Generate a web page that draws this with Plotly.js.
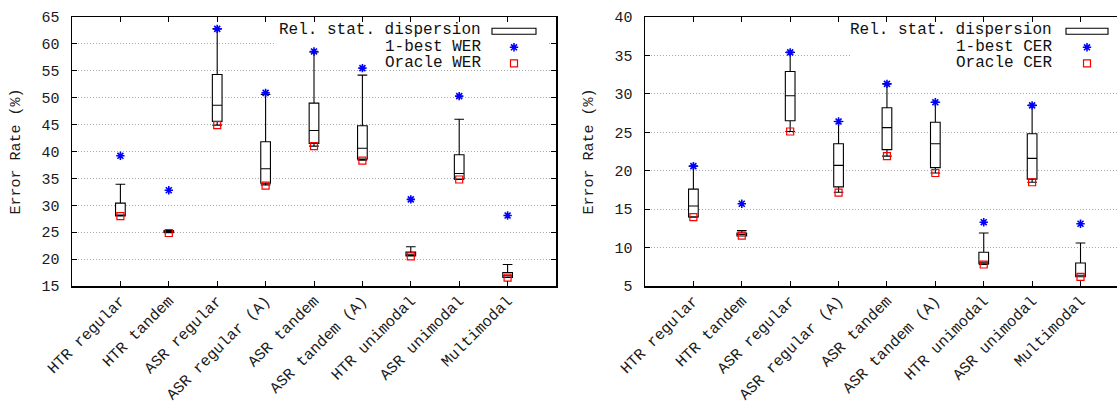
<!DOCTYPE html>
<html>
<head>
<meta charset="utf-8">
<script src="https://cdn.plot.ly/plotly-3.0.1.min.js"></script>
<style>html,body{margin:0;padding:0;background:#fff;}#chart{width:1117px;height:403px;}</style>
</head>
<body>
<div id="chart"></div>
<script>
const categories = ["HTR regular", "HTR tandem", "ASR regular", "ASR regular (A)", "ASR tandem", "ASR tandem (A)", "HTR unimodal", "ASR unimodal", "Multimodal"];

// WER panel (left)
const werWhiskerLow  = [28.0, 24.9, 44.9, 33.8, 41.0, 38.4, 20.6, 34.8, 16.6];
const werQ1          = [28.0, 24.95, 45.6, 34.1, 41.5, 38.6, 20.6, 34.9, 16.6];
const werMedian      = [28.1, 25.05, 48.6, 36.8, 43.9, 40.6, 20.7, 35.9, 16.9];
const werQ3          = [30.4, 25.25, 54.3, 41.8, 49.0, 44.8, 21.3, 39.4, 17.5];
const werWhiskerHigh = [33.9, 25.3, 62.8, 50.6, 58.5, 54.2, 22.3, 46.0, 19.0];
const werOneBest     = [39.2, 32.8, 62.8, 50.9, 58.6, 55.5, 31.1, 50.3, 28.1];
const werOracle      = [28.0, 24.85, 44.9, 33.65, 41.0, 38.3, 20.5, 34.8, 16.55];

// CER panel (right)
const cerWhiskerLow  = [13.95, 11.5, 25.1, 17.2, 21.9, 19.7, 7.8, 18.5, 6.2];
const cerQ1          = [14.0, 11.5, 26.5, 17.9, 22.75, 20.4, 7.9, 18.9, 6.2];
const cerMedian      = [15.4, 11.7, 29.75, 20.7, 25.6, 23.5, 8.1, 21.6, 6.4];
const cerQ3          = [17.6, 11.9, 32.9, 23.5, 28.2, 26.3, 9.4, 24.8, 8.0];
const cerWhiskerHigh = [20.6, 12.2, 35.4, 26.4, 31.3, 28.9, 11.9, 28.5, 10.6];
const cerOneBest     = [20.6, 15.7, 35.4, 26.4, 31.3, 28.9, 13.3, 28.5, 13.1];
const cerOracle      = [13.95, 11.55, 25.1, 17.15, 21.9, 19.7, 7.8, 18.5, 6.2];

const legendLabelsLeft  = ["Rel. stat. dispersion", "1-best WER", "Oracle WER"];
const legendLabelsRight = ["Rel. stat. dispersion", "1-best CER", "Oracle CER"];

const MONO = "Liberation Mono, Courier New, monospace";
const W = 1117;

const starMarker = {symbol: "asterisk-open", size: 7, color: "#0000ff", line: {color: "#0000ff", width: 1.6}};
const squareMarker = {symbol: "square-open", size: 7, color: "#ff0000", line: {color: "#ff0000", width: 1.2}};

function boxTrace(xa, ya, lo, q1, med, q3, hi) {
  return {
    type: "box", x: categories, xaxis: xa, yaxis: ya,
    lowerfence: lo, q1: q1, median: med, q3: q3, upperfence: hi,
    boxpoints: false, width: 0.2, whiskerwidth: 1,
    fillcolor: "#ffffff", line: {color: "#000000", width: 1.1},
    hoverinfo: "skip", showlegend: false
  };
}
function markTrace(xa, ya, y, marker) {
  return {type: "scatter", mode: "markers", x: categories, y: y, xaxis: xa, yaxis: ya,
    marker: marker, hoverinfo: "skip", showlegend: false, cliponaxis: false};
}

// legend geometry in pixel space (x5/y5 axes map 1 unit = 1 px)
const legendPanels = [
  {labels: legendLabelsLeft,  textRight: 482, sampleX0: 492, sampleX1: 536, markX: 514},
  {labels: legendLabelsRight, textRight: 1053, sampleX0: 1066, sampleX1: 1108, markX: 1087}
];
const rowY = [30.3, 47.3, 63.3];

const data = [
  boxTrace("x", "y", werWhiskerLow, werQ1, werMedian, werQ3, werWhiskerHigh),
  markTrace("x", "y", werOracle, squareMarker),
  markTrace("x", "y", werOneBest, starMarker),
  boxTrace("x2", "y2", cerWhiskerLow, cerQ1, cerMedian, cerQ3, cerWhiskerHigh),
  markTrace("x2", "y2", cerOracle, squareMarker),
  markTrace("x2", "y2", cerOneBest, starMarker)
];

const annotations = [];
const shapes = [
  {type: "rect", xref: "x", yref: "y", x0: 3.2, x1: 8.85, y0: 55.15, y1: 64.3, layer: "between", fillcolor: "#ffffff", line: {width: 0}},
  {type: "rect", xref: "x2", yref: "y2", x0: 3.24, x1: 8.754, y0: 33.2, y1: 39.5, layer: "between", fillcolor: "#ffffff", line: {width: 0}}
];
legendPanels.forEach(p => {
  p.labels.forEach((t, i) => {
    annotations.push({xref: "x5", yref: "y5", x: p.textRight, y: rowY[i], text: t, showarrow: false,
      xanchor: "right", yanchor: "middle", borderpad: 0, font: {family: MONO, size: 16, color: "#111"}});
  });
  shapes.push({type: "rect", xref: "x5", yref: "y5", x0: p.sampleX0, x1: p.sampleX1, y0: 28.3, y1: 34.3,
    line: {color: "#000", width: 1.1}, fillcolor: "rgba(0,0,0,0)", layer: "above"});
  data.push({type: "scatter", mode: "markers", x: [p.markX], y: [rowY[1]], xaxis: "x5", yaxis: "y5",
    marker: starMarker, hoverinfo: "skip", showlegend: false});
  data.push({type: "scatter", mode: "markers", x: [p.markX], y: [rowY[2]], xaxis: "x5", yaxis: "y5",
    marker: squareMarker, hoverinfo: "skip", showlegend: false});
});

const tickFont = {family: MONO, size: 15, color: "#1a1a1a"};
const xTickFont = {family: MONO, size: 15.5, color: "#1a1a1a"};
const xCommon = {type: "category", showline: true, linecolor: "#000", linewidth: 1.5, mirror: "ticks",
  ticks: "inside", ticklen: 5, tickcolor: "#000", tickwidth: 1, tickangle: -45, tickfont: xTickFont,
  ticklabelstandoff: -2,
  showgrid: false, zeroline: false, fixedrange: true};
const yCommon = {showline: true, linecolor: "#000", linewidth: 1.5, ticks: "inside", ticklen: 5,
  tickcolor: "#000", tickwidth: 1, tickfont: tickFont, ticklabelstandoff: 8,
  showgrid: true, gridcolor: "#a8a8a8", griddash: "1px,2px", gridwidth: 1, zeroline: false, dtick: 5, fixedrange: true,
  title: {text: "Error Rate (%)", font: {family: MONO, size: 15, color: "#1a1a1a"}, standoff: 17}};

const layout = {
  width: W, height: 403,
  margin: {l: 0, r: 0, t: 17, b: 117, pad: 0},
  paper_bgcolor: "#ffffff", plot_bgcolor: "rgba(0,0,0,0)",
  showlegend: false,
  xaxis: Object.assign({}, xCommon, {domain: [72 / W, 556 / W], range: [-1, 9], anchor: "y"}),
  yaxis: Object.assign({}, yCommon, {range: [15, 65], tick0: 15, anchor: "x", mirror: "ticks"}),
  xaxis2: Object.assign({}, xCommon, {domain: [645 / W, 1], range: [-1, 8.754], anchor: "y2"}),
  yaxis2: Object.assign({}, yCommon, {range: [5, 40], tick0: 5, anchor: "x2", mirror: false}),
  xaxis5: {domain: [0, 1], range: [0, W], visible: false, anchor: "y5", fixedrange: true},
  yaxis5: {domain: [0, 1], range: [286, 17], visible: false, anchor: "x5", fixedrange: true},
  annotations: annotations,
  shapes: shapes
};

Plotly.newPlot("chart", data, layout, {staticPlot: true, displayModeBar: false});
</script>
</body>
</html>
